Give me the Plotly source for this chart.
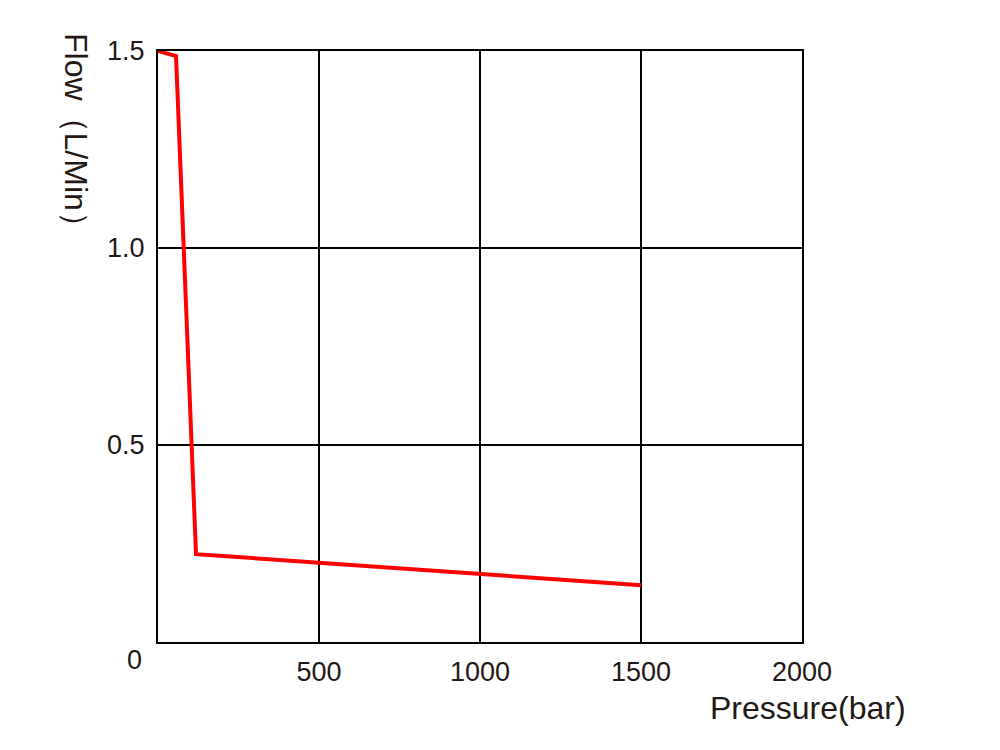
import plotly.graph_objs as go

# Flow vs pressure curve
pressure = [0, 56, 118, 1500]
flow = [1.5, 1.487, 0.223, 0.144]

x_ticks = [500, 1000, 1500, 2000]
y_ticks = [0.5, 1.0, 1.5]
y_tick_text = ['0.5', '1.0', '1.5']

ink = '#231815'

data = [go.Scatter(x=pressure, y=flow, mode='lines', cliponaxis=False,
                   line=dict(color='#ff0000', width=4), showlegend=False)]

# the page body adds an 8px offset, margins allow for it
layout = go.Layout(
    width=1000, height=750,
    paper_bgcolor='white', plot_bgcolor='white',
    margin=dict(l=150, r=206, t=43, b=116),
    font=dict(family='Liberation Sans, Arial', size=27, color=ink),
    xaxis=dict(range=[0, 2000], tickvals=x_ticks, ticks='', ticklabelstandoff=5,
               showgrid=True, gridcolor='black', gridwidth=2,
               showline=True, linecolor='black', linewidth=2, mirror=True,
               zeroline=False, automargin=False),
    yaxis=dict(range=[0, 1.5], tickvals=y_ticks, ticktext=y_tick_text, ticks='',
               ticklabelstandoff=6,
               showgrid=True, gridcolor='black', gridwidth=2,
               showline=True, linecolor='black', linewidth=2, mirror=True,
               zeroline=False, automargin=False),
    annotations=[
        dict(text='0', x=0, y=0, xref='x', yref='y', showarrow=False,
             xanchor='center', yanchor='middle', xshift=-24, yshift=-18,
             font=dict(size=27, color=ink)),
        dict(text='Pressure(bar)', x=(808 - 157) / 645, y=-(708 - 642) / 592,
             xref='paper', yref='paper', xanchor='center', yanchor='middle',
             showarrow=False, font=dict(size=32, color=ink)),
        dict(text='Flow（L/Min）', x=0, y=1.5, xref='paper', yref='y',
             showarrow=False, textangle=90, xanchor='center', yanchor='top',
             xshift=-82, yshift=20, font=dict(size=32, color=ink)),
    ],
)

fig = go.Figure(data=data, layout=layout)
fig.write_html('out.html')
